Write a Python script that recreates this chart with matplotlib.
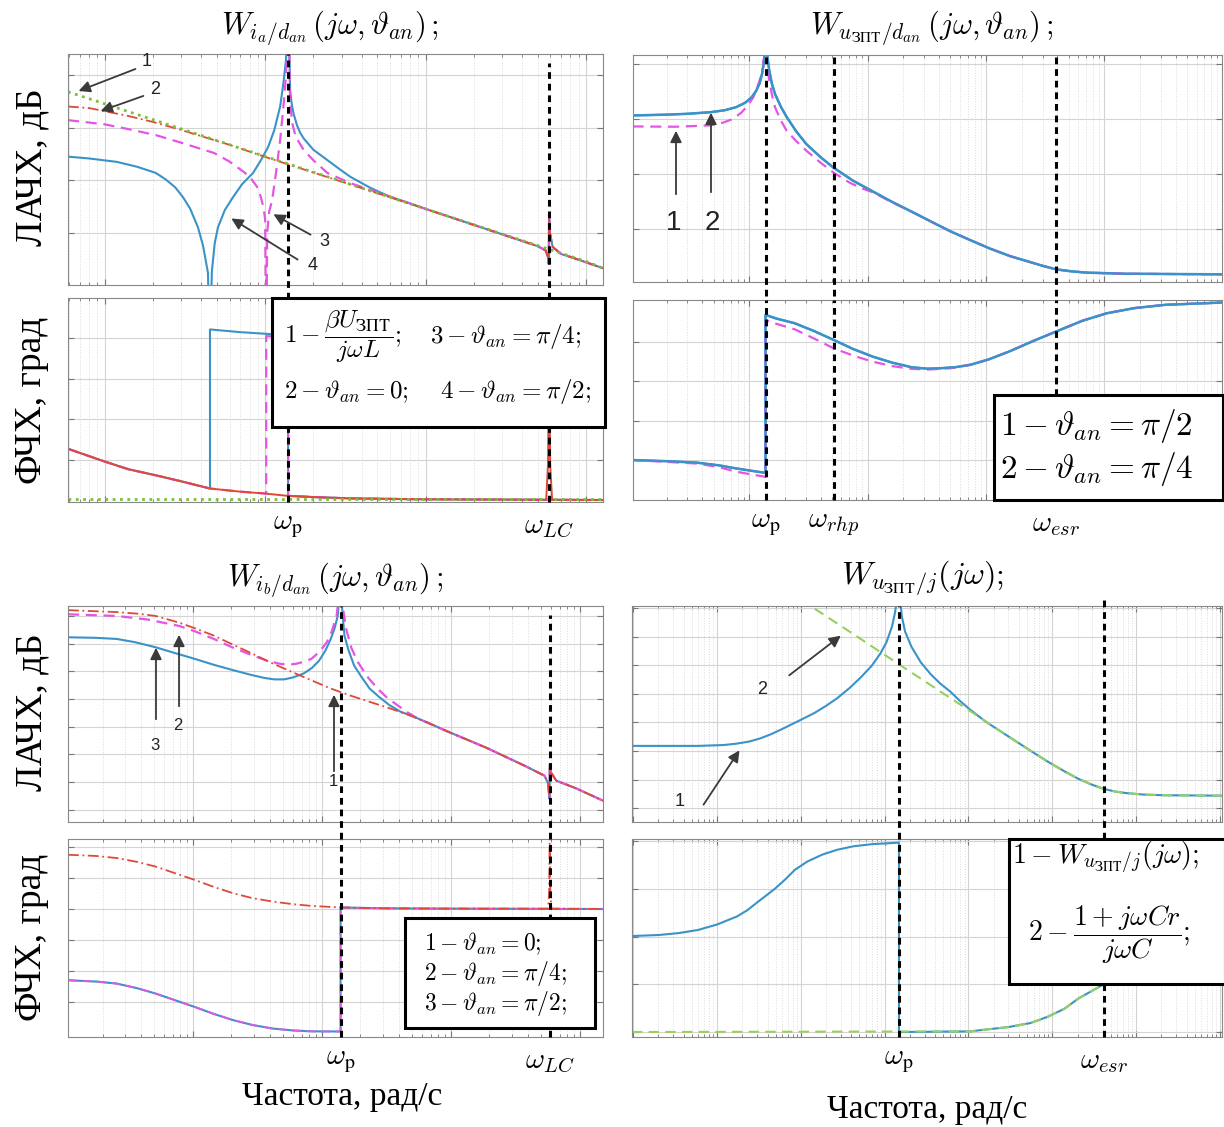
"""Bode plots (LAChKh / FChKh) of the four transfer functions, 2x2 layout"""
import numpy as np
import matplotlib
matplotlib.use("Agg")
import matplotlib.pyplot as plt
from matplotlib.patches import Rectangle, FancyArrowPatch
from matplotlib.ticker import LogLocator, NullFormatter

plt.rcParams['mathtext.fontset'] = 'cm'
plt.rcParams['font.family'] = ['DejaVu Sans']

# ---------------- panel A: W_ia/dan ----------------
a_wp, a_wlc = 139, 5890
a_line_w = [5.9, 10, 100, 1000, 10000, 12770]
a_line_db = [-6.4, -11.0, -31.0, -51.0, -71.0, -73.6]
a_red_w = [5.9, 8, 10, 14, 20, 28, 40, 60, 100, 1000, 5000, 5600, 5800, 5860, 5890, 5950, 6200, 7000, 8000, 12770]
a_red_db = [-12.0, -12.6, -13.8, -15.6, -17.9, -20.4, -23.3, -26.6, -31.2, -51.0,
            -65.2, -66.8, -69.5, -72.0, -53.0, -60.0, -65.5, -68.2, -69.3, -73.6]
a_mag_w = [5.9, 10, 14, 20.8, 30, 40, 48, 60, 75, 82, 89, 94, 98, 100, 101.5, 103, 106, 110.6, 117, 124, 130, 135,
           139, 143, 147.6, 155, 174, 200, 244, 340, 600,
           1000, 5000, 5600, 5800, 5860, 5890, 5950, 6200, 7000, 8000, 12770]
a_mag_db = [-17.2, -18.8, -20.6, -22.9, -25.8, -28.2, -29.7, -33, -37.3, -39.6, -42.6, -46.5, -51, -55, -110, -60, -52,
            -47.6, -37, -24.8, -12, 0, 40, -10, -18.4, -23.5, -28.6, -32.5, -37.3, -41.2, -46.3,
            -51.0, -65.2, -66.8, -69.5, -72.0, -53.0, -60.0, -65.5, -68.2, -69.3, -73.6]
a_blue_w = [5.9, 8, 11.9, 16, 20.8, 24, 27.5, 30.7, 34, 38.1, 41, 44, 45.3, 46.5, 48.5, 50.8, 56, 63.1, 72, 84.1, 94,
            104.4, 114, 124, 130, 135, 139, 143, 146, 150, 158, 165, 174, 200, 244, 290, 340, 453, 596, 800,
            1000, 5000, 5600, 5800, 5860, 5890, 5950, 6200, 7000, 8000, 12770]
a_blue_db = [-31.1, -31.8, -33.1, -35, -37.3, -39.8, -42.8, -46.5, -50.8, -58, -65, -75.4, -110, -75, -64, -58, -51.5,
             -46.5, -41.5, -37.3, -32.5, -27.4, -21, -12, -3, 6, 40, -5.7, -10.5, -14.5, -19.2, -21.9, -24.2, -28.5,
             -32.4, -35.8, -38.8, -43.0, -46.3, -48.9,
             -51.0, -65.2, -66.8, -69.5, -72.0, -53.0, -60.0, -65.5, -68.2, -69.3, -73.6]
# phase
a_line_ph_w = [5.9, 12770]
a_line_ph = [-89, -89]
a_red_ph_w = [5.9, 8, 10, 14, 20.8, 30, 45.3, 70, 100, 139, 200, 340, 1000,
              5650, 5800, 5860, 5890, 5920, 5980, 6150, 12770]
a_red_ph = [-32.8, -41, -47, -55.5, -62.3, -69, -77, -80.5, -82.6, -85.2, -86.5, -88, -89,
            -89.5, -50, 40, 95, 40, -50, -89.5, -89.8]
a_blue_ph_w = [5.9, 8, 10, 14, 20.8, 30, 45.3, 45.3, 70, 104.4, 139, 139, 200, 340, 1000, 12770]
a_blue_ph = [-32.8, -41, -47, -55.5, -62.3, -69, -77, 100, 97, 95, 93, -85.2, -86.5, -88, -89, -89.8]
a_mag_ph_w = [5.9, 8, 10, 14, 20.8, 30, 45.3, 70, 101.5, 101.5, 139, 139, 200, 340, 1000, 12770]
a_mag_ph = [-32.8, -41, -47, -55.5, -62.3, -69, -77, -80.5, -82.6, 92.6, 91, -85.2, -86.5, -88, -89, -89.8]

# ---------------- panel B: W_uzpt/dan ----------------
b_wp, b_wrhp, b_wesr = 137, 515, 39080
b_blue_w = [10.3, 20, 30, 47.1, 62, 77.1, 92, 104.5, 114, 121.9, 128, 133.4, 137, 141, 147.2, 155, 164.8, 185, 207,
            250, 303, 400, 515, 750, 1099, 1600, 2350, 3500, 5020, 7400, 10740, 16000, 22960, 30000, 39080,
            52000, 71600, 153000, 984000]
b_blue_db = [1.4, 1.7, 2.0, 2.6, 3.3, 4.4, 6, 8, 10.3, 13, 16.5, 21.6, 45, 24, 17.8, 13, 9.2, 4.5, 0.8,
             -4.5, -9, -13.8, -17.6, -22.3, -26.2, -30, -33.6, -37.4, -40.8, -44, -47, -49.8, -51.8, -53.3, -54.6,
             -55.3, -55.8, -56.2, -56.4]
b_mag_w = [10.3, 23.8, 47.1, 60, 71.4, 85, 96.9, 108, 117, 125, 131, 137, 141, 147.2, 155, 164.8, 185, 207, 250, 303,
           400, 515, 700, 875, 1099, 1600, 2350, 3500, 5020, 7400, 10740, 16000, 22960, 30000, 39080,
           52000, 71600, 153000, 984000]
b_mag_db = [-2.6, -2.7, -2.2, -1.2, 0, 2.3, 5, 8, 11.8, 15.5, 19, 45, 20, 14.2, 9, 4.4, -0.5, -4.2, -8, -11.4,
            -15.8, -19.4, -23, -25, -26.5, -30.2, -33.6, -37.4, -40.8, -44, -47, -49.8, -51.8, -53.3, -54.6,
            -55.3, -55.8, -56.2, -56.4]
b_blue_ph_w = [10.3, 20, 36.1, 55, 77.1, 105, 133.4, 137, 137, 170, 241, 350, 515, 750, 1099, 1600, 2350, 3200,
               4010, 5500, 7350, 10500, 15700, 25000, 39080, 65000, 104700, 180000, 326600, 984000]
b_blue_ph = [-134.5, -135.8, -137.5, -140.5, -144, -146.8, -148.9, -149.5, 30.7, 26.5, 21.3, 12.5, 2.3, -8, -16.7,
             -23.5, -28.9, -30.5, -30.1, -28.8, -26.1, -20, -10.9, 1, 11.8, 24, 32.6, 38.5, 42.2, 44.8]
b_mag_ph_w = [10.3, 36.1, 55, 77.1, 105, 133.4, 137, 137, 170, 241, 350, 515, 750, 1099, 1600, 2350, 3200,
              5020, 7350, 10500, 15700, 25000, 39080, 65000, 104700, 180000, 326600, 984000]
b_mag_ph = [-134.5, -138.5, -142.5, -147.7, -151, -153.4, -154, 25.1, 20.5, 14.4, 4, -7.2, -15.5, -22.5, -27.5,
            -30.7, -31.5, -30, -26.1, -20, -10.9, 1, 11.8, 24, 32.6, 38.5, 42.2, 44.8]

# ---------------- panel C: W_ib/dan ----------------
c_wp, c_wlc = 140.3, 5870
c_red_w = [1.08, 2.58, 3.8, 5.16, 7.85, 10.5, 14.6, 20, 29.3, 41, 58.8, 83, 117.7, 166, 235.5, 335, 472, 670, 946,
           1897, 3796, 5360, 5700, 5850, 5880, 6000, 6610, 9350, 15200]
c_red_db = [-7.9, -8.6, -9.2, -10, -12.4, -14.5, -17.1, -20.1, -23.7, -27, -30.2, -33.2, -36.2, -38.7, -41, -43.3,
            -45.7, -48.6, -51.7, -57.6, -64.2, -67.7, -70.5, -76, -63.5, -66.5, -69.5, -72.2, -76.7]
c_mag_w = [1.08, 2.58, 4.5, 7.85, 10.5, 14.6, 20, 29.3, 38, 47.8, 55, 63, 72, 83.2, 96, 109.6, 120, 130.6, 136, 140.3,
           145, 155.2, 170, 191.4, 225, 270.9, 320, 383.7, 470, 581, 670,
           946, 1897, 3796, 5360, 5700, 5850, 5880, 6000, 6610, 9350, 15200]
c_mag_db = [-9.4, -10, -11.3, -13.6, -15.6, -18.3, -21.2, -24.3, -26.2, -27.3, -27.6, -27.3, -26.6, -25.5, -23,
            -19.5, -15.5, -10, -3, 10, -6, -14.8, -21.5, -26.7, -31.8, -36.2, -39.4, -42.1, -45, -47.5, -48.6,
            -51.7, -57.6, -64.2, -67.7, -70.5, -76, -63.5, -66.5, -69.5, -72.2, -76.7]
c_blue_w = [1.08, 1.8, 2.58, 3.6, 5.16, 7.3, 10.4, 14.5, 20.7, 28, 36.1, 43, 51.2, 60, 72.4, 84, 95.7, 107, 117.7,
            126, 133.3, 137.5, 140.3, 144, 150.3, 162, 178.6, 205, 235.5, 280, 333.4, 410, 507, 670,
            946, 1897, 3796, 5360, 5700, 5850, 5880, 6000, 6610, 9350, 15200]
c_blue_db = [-17.7, -17.9, -18.3, -19.5, -21.3, -23.4, -25.5, -27.6, -29.6, -31.2, -32.4, -32.9, -32.9, -32.2,
             -30.8, -28.8, -26.1, -22.5, -18.3, -14.5, -10, -3, 10, -7, -17.1, -22.5, -27.9, -32.2, -36.2, -39.3,
             -42.1, -44.6, -46.2, -48.6,
             -51.7, -57.6, -64.2, -67.7, -70.5, -76, -63.5, -66.5, -69.5, -72.2, -76.7]
c_red_ph_w = [1.08, 1.8, 2.58, 3.7, 5.16, 7.3, 10.4, 14.6, 20.7, 29, 41.6, 60, 83.2, 140.3, 300, 1000,
              5700, 5810, 5860, 5870, 5880, 5930, 6050, 15200]
c_red_ph = [78.8, 77, 74, 68.5, 61.6, 52, 42.2, 32, 22.8, 15.8, 10.8, 7, 4.5, 2.2, 1, 0.5,
            0.5, 25, 80, 96, 80, 25, 0.5, 0]
c_low_ph_w = [1.08, 1.8, 2.58, 3.7, 5.16, 7.3, 10.4, 14.6, 20.7, 29, 41.6, 60, 83.2, 135, 140.3, 140.3, 300,
              1000, 15200]
c_low_ph = [-103.5, -105.5, -108.4, -115, -122.9, -132.5, -142.4, -152.5, -161.6, -168.5, -173.7, -176.5,
            -177.8, -178, -178, 2.2, 1, 0.5, 0]

# ---------------- panel D: W_uzpt/j ----------------
d_wp, d_wesr = 1483, 409000
d_blue_w = [0.966, 5.9, 12, 17.2, 24, 32.6, 45, 61.8, 95, 145.2, 200, 275, 380, 521, 700, 889, 1050, 1225, 1320,
            1390, 1483, 1530, 1600, 1750, 2084, 2700, 3556, 4600, 6053, 8000, 10330, 16000,
            30000, 50000, 87100, 140000, 204600, 300000, 409000, 550000, 736000, 1.2e6, 2.14e6, 1.06e7]
d_blue_db = [-18.2, -18.2, -17.9, -17.4, -16.7, -15.6, -14, -12.1, -9.4, -6.7, -4.2, -1.4, 2, 5.8, 9.8, 14.1, 18,
             23.6, 28, 31.9, 60, 33, 27.2, 21.8, 16.5, 11.0, 6.8, 3.6, 0.8, -2.6, -5.4, -9.7,
             -14.9, -19.1, -23.6, -27.1, -29.7, -31.8, -33.2, -34.1, -34.65, -35.2, -35.45, -35.6]
d_green_w = [100, 130.6, 422, 1225, 3556, 10330, 30000, 50000, 87100, 140000, 204600, 300000, 409000, 550000,
             736000, 1.2e6, 2.14e6, 1.06e7]
d_green_db = [33, 30.7, 20.9, 11.9, 3.0, -5.9, -14.9, -19.1, -23.6, -27.1, -29.7, -31.8, -33.2, -34.1,
              -34.65, -35.2, -35.45, -35.6]
d_blue_ph_w = [0.966, 2.03, 3.5, 5.9, 10, 17.2, 23, 29.3, 38, 49.9, 65, 85.1, 120, 179.5, 270, 422, 700, 1225,
               1483, 1483, 10330, 30000, 55000, 87100, 140000, 204600, 300000, 409000, 600000, 900000, 1.5e6,
               2.5e6, 5e6, 1.06e7]
d_blue_ph = [0.6, 1.6, 3.4, 6.3, 11.5, 19, 25, 31.6, 38.5, 45.8, 54, 63.2, 71, 77.4, 82, 85.3, 87.3, 88.4,
             88.8, -90, -89.4, -85.3, -81.5, -75.8, -68, -58.4, -51, -45, -34, -24, -15, -9, -4.7, -2.5]
d_green_ph_w = [0.966, 10330, 30000, 55000, 87100, 140000, 204600, 300000, 409000, 600000, 900000, 1.5e6,
                2.5e6, 5e6, 1.06e7]
d_green_ph = [-90, -89.4, -85.3, -81.5, -75.8, -68, -58.4, -51, -45, -34, -24, -15, -9, -4.7, -2.5]

BLUE = '#3a93c8'
MAG = '#e455e4'
RED = '#e0483a'
GREEN = '#7bbf3a'
LGREEN = '#95d060'

W, H = 1224, 1127
fig = plt.figure(figsize=(W / 100, H / 100), dpi=100)


def box(x0, y0, x1, y1):
    return [x0 / W, 1 - y1 / H, (x1 - x0) / W, (y1 - y0) / H]


def fx(x):
    return x / W


def fy(y):
    return 1 - y / H


def style(ax, xlim, ylim, yticks):
    ax.set_xscale('log')
    ax.set_xlim(xlim)
    ax.set_ylim(ylim)
    ax.set_yticks(yticks)
    ax.xaxis.set_major_locator(LogLocator(base=10, numticks=30))
    ax.xaxis.set_minor_locator(LogLocator(base=10, subs=np.arange(2, 10), numticks=30))
    ax.xaxis.set_minor_formatter(NullFormatter())
    ax.grid(True, which='major', color='#d4d4d4', lw=0.8)
    ax.grid(True, which='minor', axis='x', color='#dcdcdc', lw=0.7, ls=':')
    ax.tick_params(which='both', direction='in', top=True, right=True,
                   labelbottom=False, labelleft=False, color='#777777')
    ax.tick_params(which='major', length=4)
    ax.tick_params(which='minor', length=2)
    for s in ax.spines.values():
        s.set_color('#888888')
    ax.set_axisbelow(True)


def vline(ax, w, ymin=0, ymax=1):
    ax.axvline(w, ymin=ymin, ymax=ymax, color='black', lw=2.2, ls=(0, (2.2, 1.6)),
               zorder=6, clip_on=False)


def wlabel(ax, w, txt, dy=-0.05):
    ax.text(w, dy, txt, transform=ax.get_xaxis_transform(), ha='center', va='top', fontsize=21)


def arrow(x0, y0, x1, y1):
    fig.add_artist(FancyArrowPatch(
        (fx(x0), fy(y0)), (fx(x1), fy(y1)), transform=fig.transFigure,
        arrowstyle='-|>', mutation_scale=17, color='#3a3a3a', lw=1.3, zorder=12))


def num(x, y, s, size=13):
    fig.text(fx(x), fy(y), s, ha='center', va='center', fontsize=size,
             family='Liberation Sans', color='#222222', zorder=12)


def legend_box(x0, y0, x1, y1):
    fig.add_artist(Rectangle((fx(x0), fy(y1)), fx(x1) - fx(x0), fy(y0) - fy(y1),
                             transform=fig.transFigure, fc='white', ec='black', lw=2.2, zorder=10))


def ltext(x, y, s, size=15):
    fig.text(fx(x), fy(y), s, ha='left', va='center', fontsize=size, zorder=11)


axA_m = fig.add_axes(box(68, 54, 603, 285))
axA_p = fig.add_axes(box(68, 298, 603, 502))
axB_m = fig.add_axes(box(633, 55, 1222, 282))
axB_p = fig.add_axes(box(633, 300, 1222, 500))
axC_m = fig.add_axes(box(68, 606, 603, 822))
axC_p = fig.add_axes(box(68, 839, 603, 1037))
axD_m = fig.add_axes(box(632, 606, 1222, 822))
axD_p = fig.add_axes(box(632, 839, 1222, 1037))

DASH = (0, (5, 3))
DASHDOT = (0, (6, 2, 1, 2))

# ---- panel A ----
style(axA_m, (5.9, 12770), (-80, 8), [-60, -40, -20, 0])
style(axA_p, (5.9, 12770), (-92, 135), [-45, 0, 45, 90])
axA_m.plot(a_blue_w, a_blue_db, color=BLUE, lw=1.5)
axA_m.plot(a_mag_w, a_mag_db, color=MAG, lw=1.6, ls=DASH)
axA_m.plot(a_red_w, a_red_db, color=RED, lw=1.3, ls=DASHDOT)
axA_m.plot(a_line_w, a_line_db, color=GREEN, lw=2.0, ls=':')
axA_p.plot(a_blue_ph_w, a_blue_ph, color=BLUE, lw=1.5)
axA_p.plot(a_mag_ph_w, a_mag_ph, color=MAG, lw=1.6, ls=DASH)
axA_p.plot(a_red_ph_w, a_red_ph, color=RED, lw=1.4)
axA_p.plot(a_line_ph_w, a_line_ph, color=GREEN, lw=2.0, ls=':')
vline(axA_m, a_wp, ymin=-0.06)
vline(axA_m, a_wlc, ymin=-0.06, ymax=0.96)
vline(axA_p, a_wp)
vline(axA_p, a_wlc)
wlabel(axA_p, a_wp, r'$\omega_{\mathrm{р}}$')
wlabel(axA_p, a_wlc, r'$\omega_{LC}$')

# ---- panel B ----
style(axB_m, (10.4, 985000), (-59.2, 23.4), [-40, -20, 0, 20])
style(axB_p, (10.4, 985000), (-180, 47.7), [-135, -90, -45, 0])
axB_m.plot(b_blue_w, b_blue_db, color=BLUE, lw=1.8)
axB_m.plot(b_mag_w, b_mag_db, color=MAG, lw=1.6, ls=DASH)
axB_m.plot(b_blue_w, b_blue_db, color=BLUE, lw=1.5)
axB_p.plot(b_blue_ph_w, b_blue_ph, color=BLUE, lw=1.8)
axB_p.plot(b_mag_ph_w, b_mag_ph, color=MAG, lw=1.6, ls=DASH)
axB_p.plot(b_blue_ph_w, b_blue_ph, color=BLUE, lw=1.5)
for w in (b_wp, b_wrhp, b_wesr):
    vline(axB_m, w, ymin=-0.06)
    vline(axB_p, w)
wlabel(axB_p, b_wp, r'$\omega_{\mathrm{р}}$')
wlabel(axB_p, b_wrhp, r'$\omega_{rhp}$')
wlabel(axB_p, b_wesr, r'$\omega_{esr}$')

# ---- panel C ----
style(axC_m, (1.08, 15200), (-84.4, -6.4), list(range(-80, 0, 10)))
style(axC_p, (1.08, 15200), (-186, 101.7), [-135, -90, -45, 0, 45, 90])
axC_m.plot(c_blue_w, c_blue_db, color=BLUE, lw=1.5)
axC_m.plot(c_mag_w, c_mag_db, color=MAG, lw=1.6, ls=DASH)
axC_m.plot(c_red_w, c_red_db, color=RED, lw=1.3, ls=DASHDOT)
axC_p.plot(c_low_ph_w, c_low_ph, color=BLUE, lw=1.5)
axC_p.plot(c_low_ph_w, c_low_ph, color=MAG, lw=1.3, ls=DASH)
axC_p.plot(c_red_ph_w, c_red_ph, color=RED, lw=1.3, ls=DASHDOT)
vline(axC_m, c_wp, ymin=-0.08)
vline(axC_m, c_wlc, ymin=-0.08, ymax=0.96)
vline(axC_p, c_wp)
vline(axC_p, c_wlc)
wlabel(axC_p, c_wp, r'$\omega_{\mathrm{р}}$')
wlabel(axC_p, c_wlc, r'$\omega_{LC}$')

# ---- panel D ----
style(axD_m, (0.966, 1.06e7), (-44.8, 30.7), list(range(-40, 40, 10)))
style(axD_p, (0.966, 1.06e7), (-94.7, 92.2), [-90, -45, 0, 45, 90])
axD_m.plot(d_blue_w, d_blue_db, color=BLUE, lw=1.5)
axD_m.plot(d_green_w, d_green_db, color=LGREEN, lw=1.5, ls=DASH)
axD_p.plot(d_blue_ph_w, d_blue_ph, color=BLUE, lw=1.5)
axD_p.plot(d_green_ph_w, d_green_ph, color=LGREEN, lw=1.5, ls=DASH)
vline(axD_m, d_wp, ymin=-0.08)
vline(axD_m, d_wesr, ymin=-0.08, ymax=1.03)
vline(axD_p, d_wp)
vline(axD_p, d_wesr)
wlabel(axD_p, d_wp, r'$\omega_{\mathrm{р}}$')
wlabel(axD_p, d_wesr, r'$\omega_{esr}$')

# ---- titles ----
fig.text(fx(330), fy(28), r'$W_{i_a/d_{an}}\,(j\omega,\vartheta_{an})\,;$', ha='center', va='center', fontsize=22)
fig.text(fx(932), fy(28), r'$W_{u_{\mathrm{ЗПТ}}/d_{an}}\,(j\omega,\vartheta_{an})\,;$', ha='center', va='center', fontsize=22)
fig.text(fx(335), fy(580), r'$W_{i_b/d_{an}}\,(j\omega,\vartheta_{an})\,;$', ha='center', va='center', fontsize=22)
fig.text(fx(922), fy(578), r'$W_{u_{\mathrm{ЗПТ}}/j}(j\omega);$', ha='center', va='center', fontsize=23)

# ---- axis captions ----
for yc, s in ((167, 'ЛАЧХ, дБ'), (400, 'ФЧХ, град'), (712, 'ЛАЧХ, дБ'), (937, 'ФЧХ, град')):
    fig.text(fx(32), fy(yc), s, rotation=90, ha='center', va='center', fontsize=27, family='Liberation Serif')
fig.text(fx(342), fy(1097), 'Частота, рад/с', ha='center', va='center', fontsize=24, family='Liberation Serif')
fig.text(fx(927), fy(1110), 'Частота, рад/с', ha='center', va='center', fontsize=24, family='Liberation Serif')

# ---- arrows and numbers ----
arrow(138, 68, 76, 92); num(147, 62, '1')
arrow(146, 95, 98, 112); num(155, 89, '2')
arrow(313, 236, 271, 213); num(324, 241, '3')
arrow(300, 261, 229, 217); num(313, 266, '4')
arrow(676, 197, 676, 128); num(674, 223, '1', 20)
arrow(711, 195, 711, 110); num(712, 223, '2', 20)
arrow(156, 722, 156, 645); num(155, 745, '3', 12)
arrow(179, 709, 179, 632); num(178, 725, '2', 12)
arrow(334, 774, 334, 692); num(333, 782, '1', 12)
arrow(787, 677, 843, 634); num(762, 689, '2', 13)
arrow(702, 807, 741, 748); num(680, 801, '1', 13)

# ---- legend boxes ----
legend_box(272, 298, 605, 427)
ltext(284, 337, r'$1-\dfrac{\beta U_{\mathrm{ЗПТ}}}{j\omega L};$', 18)
ltext(430, 337, r'$3-\vartheta_{an}=\pi/4;$', 18)
ltext(284, 392, r'$2-\vartheta_{an}=0;$', 18)
ltext(440, 392, r'$4-\vartheta_{an}=\pi/2;$', 18)

legend_box(994, 395, 1223, 500)
ltext(1000, 426, r'$1-\vartheta_{an}=\pi/2$', 24)
ltext(1000, 469, r'$2-\vartheta_{an}=\pi/4$', 24)

legend_box(405, 918, 595, 1028)
ltext(424, 944, r'$1-\vartheta_{an}=0;$', 17)
ltext(424, 974, r'$2-\vartheta_{an}=\pi/4;$', 17)
ltext(424, 1004, r'$3-\vartheta_{an}=\pi/2;$', 17)

legend_box(1009, 839, 1225, 984)
ltext(1012, 857, r'$1-W_{u_{\mathrm{ЗПТ}}/j}(j\omega);$', 20)
ltext(1028, 935, r'$2-\dfrac{1+j\omega Cr}{j\omega C};$', 20)

fig.savefig('out.png', dpi=100)
